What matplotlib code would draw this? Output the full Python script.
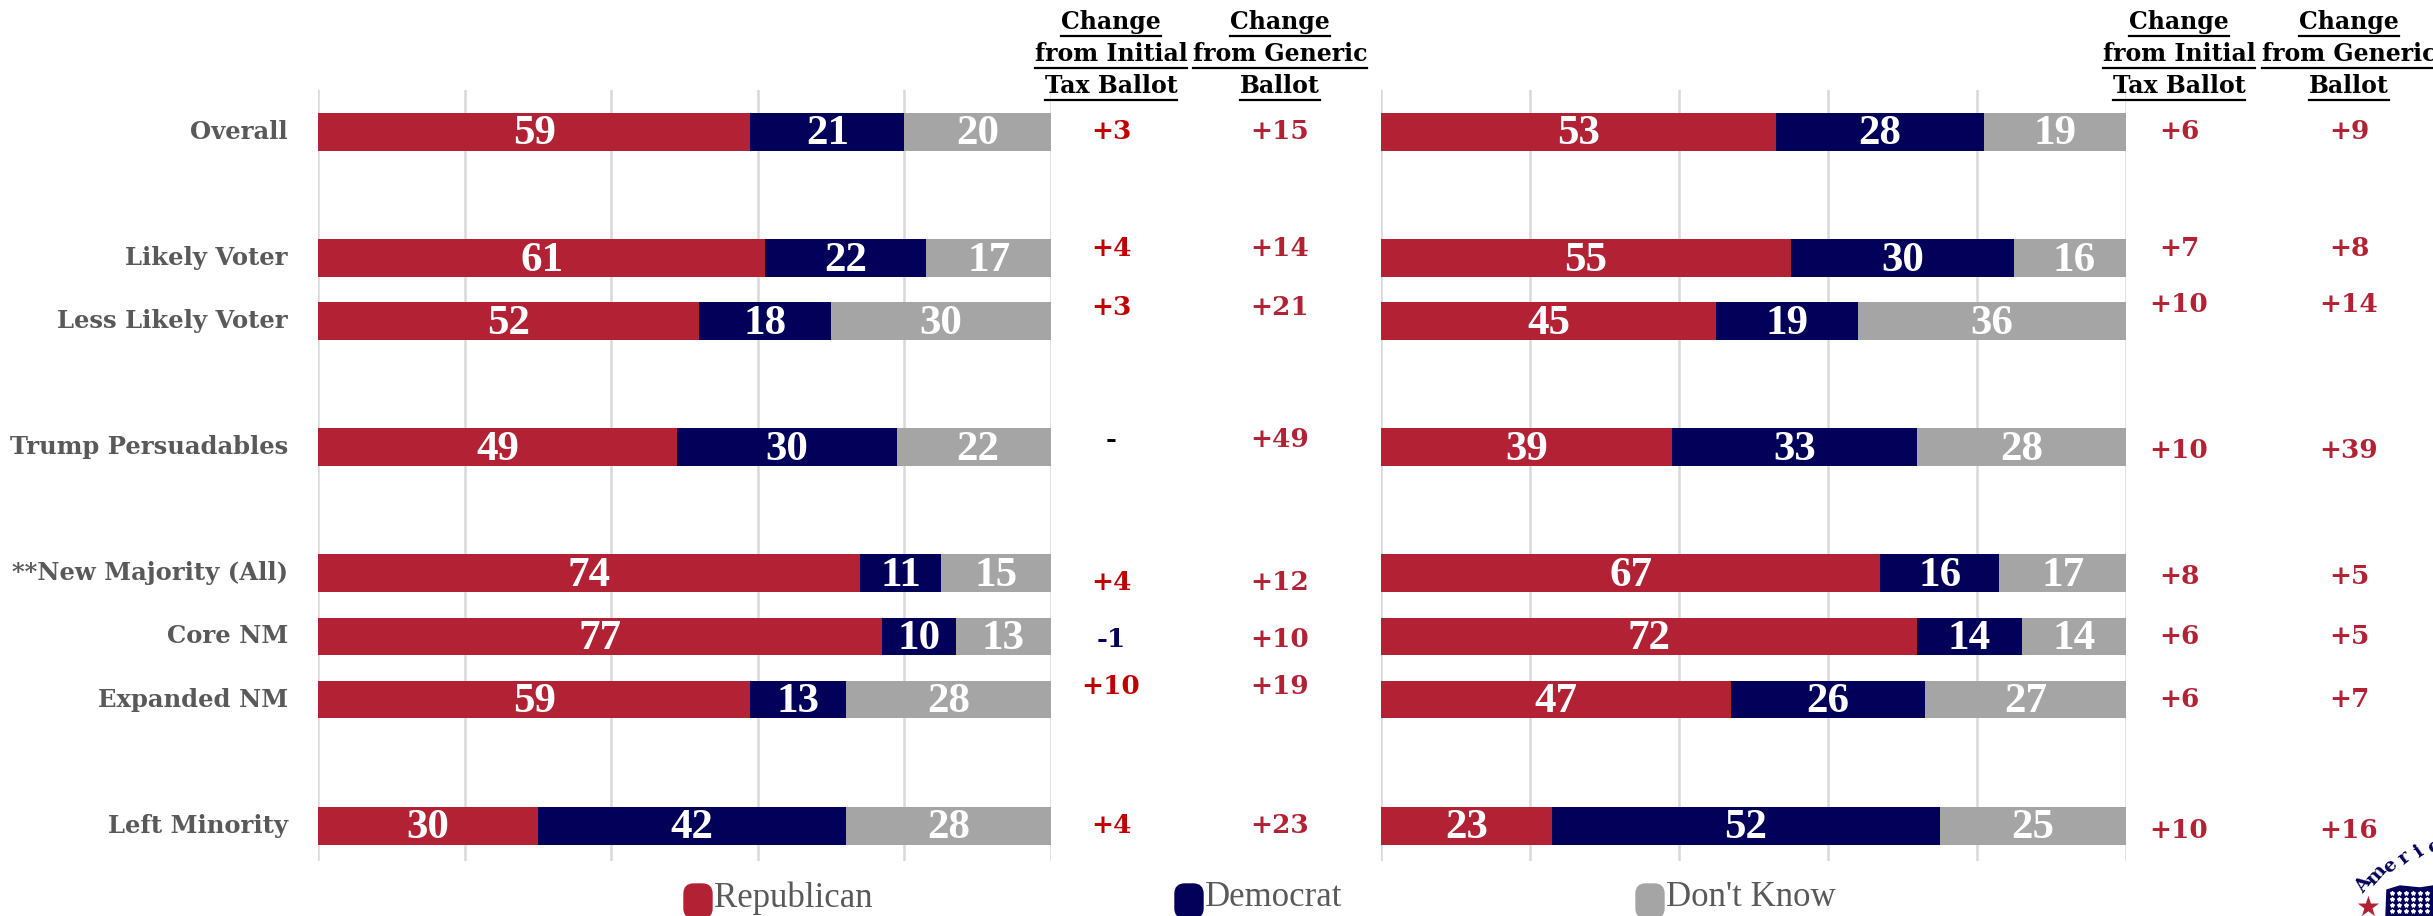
import matplotlib
matplotlib.use("Agg")
import matplotlib.pyplot as plt
from matplotlib import font_manager
from matplotlib.transforms import blended_transform_factory
from matplotlib.patches import FancyBboxPatch, Polygon
import numpy as np

# ---------------- data ----------------
categories = ["Overall", "", "Likely Voter", "Less Likely Voter", "", "Trump Persuadables", "",
              "**New Majority (All)", "Core NM", "Expanded NM", "", "Left Minority"]

left_rep = [59, None, 61, 52, None, 49, None, 74, 77, 59, None, 30]
left_dem = [21, None, 22, 18, None, 30, None, 11, 10, 13, None, 42]
left_dk = [20, None, 17, 30, None, 22, None, 15, 13, 28, None, 28]

right_rep = [53, None, 55, 45, None, 39, None, 67, 72, 47, None, 23]
right_dem = [28, None, 30, 19, None, 33, None, 16, 14, 26, None, 52]
right_dk = [19, None, 16, 36, None, 28, None, 17, 14, 27, None, 25]

left_chg_initial = ["+3", None, "+4", "+3", None, "-", None, "+4", "-1", "+10", None, "+4"]
left_chg_generic = ["+15", None, "+14", "+21", None, "+49", None, "+12", "+10", "+19", None, "+23"]
right_chg_initial = ["+6", None, "+7", "+10", None, "+10", None, "+8", "+6", "+6", None, "+10"]
right_chg_generic = ["+9", None, "+8", "+14", None, "+39", None, "+5", "+5", "+7", None, "+16"]

header_initial = "Change\nfrom Initial\nTax Ballot"
header_generic = "Change\nfrom Generic\nBallot"
legend_labels = ["Republican", "Democrat", "Don't Know"]

# ---------------- style ----------------
REP = "#B22234"
DEM = "#03005A"
DK = "#A5A5A5"
RED_BRIGHT = "#C00000"
LABEL_GRAY = "#595959"

avail = {f.name for f in font_manager.fontManager.ttflist}
SERIF = "DejaVu Serif"
BAR_FONT = "Liberation Serif" if "Liberation Serif" in avail else "DejaVu Serif"

W, H = 2433, 916
fig = plt.figure(figsize=(W / 100, H / 100), dpi=100)

ylim = (11.56, -0.665)
axL = fig.add_axes([318 / W, 1 - 861 / H, 733 / W, 771 / H])
axR = fig.add_axes([1381 / W, 1 - 861 / H, 745 / W, 771 / H])

# vertical offsets for change text (layout only, slot units)
off_left = [0, 0, -0.15, -0.22, 0, -0.12, 0, 0.15, 0.05, -0.2, 0, 0]
off_right = [0, 0, -0.15, -0.27, 0, 0.05, 0, 0.05, 0, 0, 0, 0.07]


def draw_panel(ax, rep, dem, dk):
    ax.set_xlim(0, 100)
    ax.set_ylim(*ylim)
    for s in ax.spines.values():
        s.set_visible(False)
    ax.set_xticks([0, 20, 40, 60, 80, 100])
    ax.set_yticks([])
    ax.tick_params(length=0, labelbottom=False)
    ax.grid(axis="x", color="#D9D9D9", linewidth=1.8)
    ax.set_axisbelow(True)
    ys = [i for i, v in enumerate(rep) if v is not None]
    r = [rep[i] for i in ys]
    d = [dem[i] for i in ys]
    k = [dk[i] for i in ys]
    h = 0.6
    ax.barh(ys, r, height=h, color=REP, zorder=2)
    ax.barh(ys, d, left=r, height=h, color=DEM, zorder=2)
    ax.barh(ys, k, left=np.array(r) + np.array(d), height=h, color=DK, zorder=2)
    for y, a, b, c in zip(ys, r, d, k):
        for start, val in [(0, a), (a, b), (a + b, c)]:
            ax.text(start + val / 2, y + 0.04, f"{val}", ha="center", va="center",
                    color="white", fontsize=31, fontweight="bold", family=BAR_FONT, zorder=3)


draw_panel(axL, left_rep, left_dem, left_dk)
draw_panel(axR, right_rep, right_dem, right_dk)

# category labels
trL = blended_transform_factory(axL.transAxes, axL.transData)
for i, c in enumerate(categories):
    if c:
        axL.text(-0.041, i, c, transform=trL, ha="right", va="center", fontsize=17.5,
                 fontweight="bold", color=LABEL_GRAY, family=SERIF)


# change columns
def change_col(ax, xpx, vals, offs, base_color):
    tr = blended_transform_factory(fig.transFigure, ax.transData)
    for i, v in enumerate(vals):
        if v is None:
            continue
        col = base_color
        if v.startswith("-") and v != "-":
            col = DEM
        if v == "-":
            col = "black"
        ax.text(xpx / W, i + offs[i], v, transform=tr, ha="center", va="center",
                fontsize=19, fontweight="bold", color=col, family=SERIF, clip_on=False)


change_col(axL, 1111, left_chg_initial, off_left, RED_BRIGHT)
change_col(axL, 1280, left_chg_generic, off_left, REP)
change_col(axR, 2179, right_chg_initial, off_right, REP)
change_col(axR, 2349, right_chg_generic, off_right, REP)


def header_underlined(xpx, text):
    renderer = fig.canvas.get_renderer()
    for j, ln in enumerate(text.split("\n")):
        ypx = 22 + j * 32
        t = fig.text(xpx / W, 1 - ypx / H, ln, ha="center", va="center", fontsize=17,
                     fontweight="bold", color="black", family=SERIF)
        bb = t.get_window_extent(renderer=renderer)
        yl = 1 - (ypx + 14) / H
        fig.add_artist(plt.Line2D([bb.x0 / W, bb.x1 / W], [yl, yl], color="black",
                                  linewidth=1.6, transform=fig.transFigure))


header_underlined(1111, header_initial)
header_underlined(1280, header_generic)
header_underlined(2179, header_initial)
header_underlined(2349, header_generic)

# legend
leg_x = [698, 1189, 1650]
for x, lab, col in zip(leg_x, legend_labels, [REP, DEM, DK]):
    fig.add_artist(FancyBboxPatch(((x - 14) / W, 1 - 918 / H), 28 / W, 34 / H,
                                  boxstyle="round,pad=0,rounding_size=0.004",
                                  transform=fig.transFigure, color=col, mutation_aspect=W / H))
    fig.text((x + 16) / W, 1 - 898 / H, lab, ha="left", va="center", fontsize=25,
             color=LABEL_GRAY, family=BAR_FONT)

# partial logo in bottom-right corner
cx, cy, rad = 2490, 1030, 192
letters = "Americ"
angs = np.linspace(131, 107, len(letters))
for ch, a in zip(letters, angs):
    ar = np.deg2rad(a)
    fig.text((cx + rad * np.cos(ar)) / W, 1 - (cy - rad * np.sin(ar)) / H, ch,
             ha="center", va="center", rotation=a - 90 + 12, fontsize=14, fontweight="bold",
             color=DEM, family=SERIF)
fig.text(2368 / W, 1 - 908 / H, "★", ha="center", va="center", fontsize=20, color=REP)
fig.add_artist(Polygon([(2386 / W, 1 - 916 / H), (2387 / W, 1 - 890 / H), (2400 / W, 1 - 886 / H),
                        (2420 / W, 1 - 888 / H), (2433 / W, 1 - 886 / H), (2433 / W, 0)],
                       closed=True, transform=fig.transFigure, color=DEM))
for xx in range(2392, 2433, 7):
    for yy in range(893, 916, 6):
        fig.add_artist(plt.Line2D([xx / W], [1 - yy / H], marker="*", markersize=3,
                                  color="white", linestyle="none", transform=fig.transFigure))

fig.savefig("out.png", dpi=100)
